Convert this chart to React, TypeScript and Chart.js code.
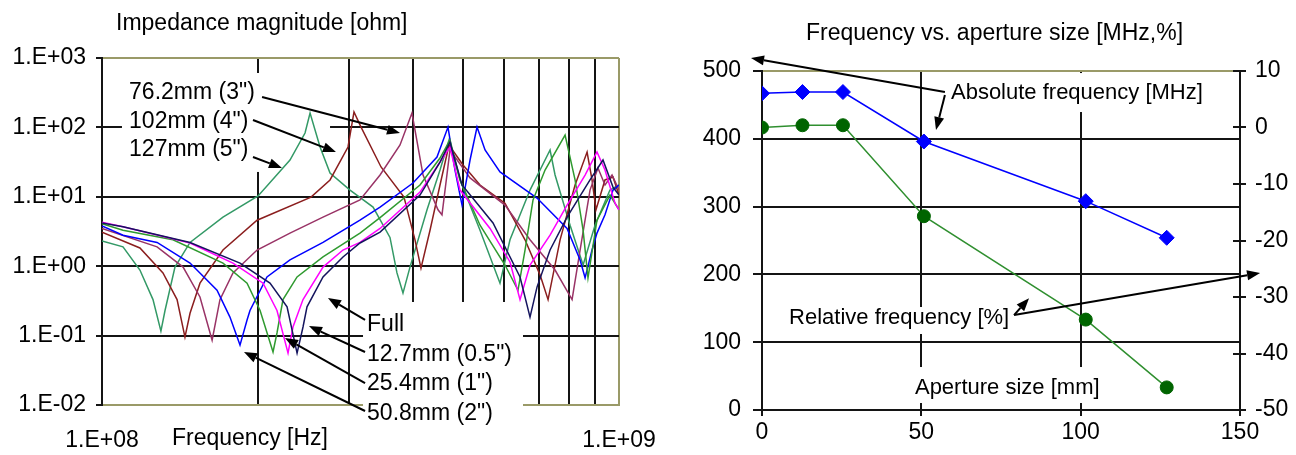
import React, { useEffect, useRef } from "react";
import { Chart, registerables } from "chart.js";

Chart.register(...registerables);

// ================= Left chart: impedance magnitude vs frequency =================
// frequency in MHz, impedance magnitude in ohm
const fullFreq = [100, 109.8, 148.0, 184.9, 211.3, 228.0, 238.4, 244.8, 249.2, 267.6, 292.5, 315.5, 345.0, 412.2, 450.6, 471.1, 497.0, 570.6, 643.5, 672.8, 694.1, 735.6, 793.5, 878.9, 931.2, 973.6, 1000];
const fullZ = [4.2, 3.7, 2.2, 1.11, 0.57, 0.26, 0.056, 0.133, 0.26, 0.7, 1.36, 2.16, 3.1, 10.6, 31.7, 61.6, 14.8, 4.2, 0.7, 0.185, 0.5, 1.71, 5.1, 17.5, 33.9, 13.8, 10.6];

const m12Freq = [100, 109.8, 148.0, 179.2, 204.9, 218.0, 229.0, 234.1, 244.8, 267.6, 292.5, 315.5, 345.0, 412.2, 450.6, 471.1, 492.6, 563.1, 615.4, 643.5, 672.8, 735.6, 793.5, 859.8, 906.6, 939.5, 982.4, 1000];
const m12Z = [4.3, 3.7, 2.16, 1.11, 0.57, 0.23, 0.056, 0.133, 0.33, 0.97, 1.71, 2.2, 3.5, 11.7, 31.7, 52.2, 12.5, 3.5, 1.15, 0.33, 1.04, 2.8, 7.6, 20.6, 44.2, 24.3, 8.1, 6.5];

const m25Freq = [100, 109.8, 137.2, 171.4, 190.8, 202.2, 214.2, 218.0, 223.9, 238.4, 267.6, 315.5, 345.0, 412.2, 450.6, 471.1, 492.6, 538.5, 601.8, 637.7, 658.0, 681.9, 719.4, 786.5, 822.3, 852.2, 871.0, 906.6, 960.5, 1000];
const m25Z = [4.1, 3.3, 2.4, 1.11, 0.57, 0.23, 0.058, 0.109, 0.33, 0.7, 1.36, 3.0, 5.0, 14.8, 36.2, 65.8, 17.5, 3.9, 1.04, 0.45, 1.71, 9.0, 24.3, 77.7, 17.5, 3.3, 0.68, 4.6, 10.6, 6.5];

const m50Freq = [100, 109.8, 127.8, 148.0, 166.9, 176.8, 184.9, 190.8, 193.3, 208.5, 231.0, 267.6, 315.5, 345.0, 399.5, 444.6, 466.9, 481.7, 497.0, 515.1, 531.4, 550.7, 588.6, 694.1, 793.5, 840.9, 859.8, 886.8, 906.6, 939.5, 973.6, 1000];
const m50Z = [3.8, 2.8, 2.2, 1.11, 0.45, 0.185, 0.073, 0.168, 0.23, 0.7, 1.23, 2.2, 4.6, 7.1, 15.8, 37.4, 101, 24.3, 7.6, 33.9, 101, 47.2, 22.8, 9.6, 3.5, 1.23, 0.68, 1.71, 3.0, 5.5, 12.5, 14.8];

const m76Freq = [100, 127.8, 143.5, 154.7, 163.3, 169.1, 179.2, 199.5, 231.0, 267.6, 315.5, 345.0, 377.1, 397.7, 417.8, 446.6, 454.6, 471.1, 515.1, 601.8, 672.8, 752.2, 811.4, 840.9, 878.9, 910.6, 939.5, 969.4, 1000];
const m76Z = [3.5, 1.9, 0.97, 0.36, 0.086, 0.33, 0.8, 1.71, 3.0, 5.1, 9.0, 20.6, 55.8, 161, 20.6, 6.5, 5.5, 47.2, 18.7, 7.6, 2.4, 0.88, 0.33, 1.71, 12.5, 26.0, 14.8, 20.6, 12.5];

const m102Freq = [100, 118.4, 131.2, 139.7, 144.7, 148.0, 154.7, 171.4, 199.5, 253.7, 276.1, 299.1, 307.2, 317.0, 346.5, 383.8, 403.1, 414.0, 431.0, 450.6, 469.0, 499.2, 538.5, 601.8, 658.0, 703.5, 729.1, 769.2, 822.3, 867.5, 886.8, 902.6, 939.5, 973.6, 1000];
const m102Z = [3.1, 1.83, 0.8, 0.33, 0.095, 0.21, 0.57, 1.71, 4.6, 9.9, 17.5, 52.2, 167, 101, 26.9, 9.9, 2.4, 0.94, 3.3, 14.8, 55.8, 28.7, 14.8, 8.1, 2.4, 0.75, 0.33, 2.4, 14.8, 44.2, 17.5, 6.5, 17.5, 19.3, 10.6];

const m127Freq = [100, 109.8, 118.4, 125.5, 130.0, 132.4, 138.4, 148.0, 171.4, 200.4, 231.0, 247.0, 252.6, 264.1, 276.1, 301.8, 334.4, 360.6, 372.0, 382.1, 394.2, 425.3, 450.6, 469.0, 492.6, 538.5, 588.6, 615.4, 672.8, 735.6, 752.2, 804.2, 852.2, 898.7, 960.5, 1000];
const m127Z = [2.3, 1.9, 0.88, 0.33, 0.116, 0.23, 0.97, 2.2, 5.1, 10.3, 33.9, 83, 161, 52.2, 22.0, 12.5, 7.1, 2.6, 0.8, 0.41, 0.97, 6.5, 24.3, 66, 17.5, 3.3, 0.57, 2.4, 12.5, 47.2, 20.6, 3.9, 1.04, 3.9, 12.5, 14.8];

const leftSeriesNames = ["Full", "12.7mm", "25.4mm", "50.8mm", "76.2mm", "102mm", "127mm"];
const leftSeriesFreq = [fullFreq, m12Freq, m25Freq, m50Freq, m76Freq, m102Freq, m127Freq];
const leftSeriesZ = [fullZ, m12Z, m25Z, m50Z, m76Z, m102Z, m127Z];

const leftXTicks = [1e8, 2e8, 3e8, 4e8, 5e8, 6e8, 7e8, 8e8, 9e8, 1e9];
const leftXTickLabels = ["1.E+08", "", "", "", "", "", "", "", "", "1.E+09"];
const leftYTicks = [0.01, 0.1, 1, 10, 100, 1000];
const leftYTickLabels = ["1.E-02", "1.E-01", "1.E+00", "1.E+01", "1.E+02", "1.E+03"];

// annotation texts (anchored in data units: MHz, ohm)
const leftLabelTexts = ['76.2mm (3")', '102mm (4")', '127mm (5")', "Full", '12.7mm (0.5")', '25.4mm (1")', '50.8mm (2")'];
const leftLabelFreq = [112.8, 112.8, 112.8, 325.6, 325.6, 325.6, 325.6];
const leftLabelZ = [313, 120, 47.2, 0.142, 0.0525, 0.0201, 0.0074];

// ================= Right chart: frequency vs aperture size =================
const apertureMm = [0, 12.7, 25.4, 50.8, 101.6, 127];
const absFreqMHz = [467, 469, 469, 396, 308, 254];
const relFreqPct = [0, 0.4, 0.4, -15.7, -34.0, -46.0];

const rightXTicks = [0, 50, 100, 150];
const rightYTicks = [0, 100, 200, 300, 400, 500];
const rightY2Ticks = [-50, -40, -30, -20, -10, 0, 10];

const rightLabelTexts = ["Absolute frequency [MHz]", "Relative frequency [%]", "Aperture size [mm]"];
const rightLabelX = [59.3, 8.5, 48];
const rightLabelY = [467.6, 135.7, 32.4];

// ================= Annotation geometry (not data) =================
const leftArrows = [
  { f1: 204.0, z1: 274, f2: 377.1, z2: 83 },
  { f1: 195.9, z1: 128, f2: 283.5, z2: 44.2 },
  { f1: 195.9, z1: 37.4, f2: 222.9, z2: 26.0 },
  { f1: 322.7, z1: 0.168, f2: 273.6, z2: 0.348 },
  { f1: 322.7, z1: 0.058, f2: 251.4, z2: 0.137 },
  { f1: 322.7, z1: 0.0207, f2: 225.9, z2: 0.092 },
  { f1: 322.7, z1: 0.0082, f2: 188.2, z2: 0.058 },
];
const leftMasks = [
  { f1: 109.3, f2: 276.1, z1: 608, z2: 22.8 },
  { f1: 319.8, f2: 652.1, z1: 0.305, z2: 0.00515 },
];
const rightArrows = [
  { x1: 57.4, y1: 469, x2: -3.45, y2: 519 },
  { x1: 57.4, y1: 464.6, x2: 54.6, y2: 413 },
  { x1: 79.1, y1: 140, x2: 156.3, y2: 202 },
  { x1: 79.1, y1: 140, x2: 83.8, y2: 165 },
];
const rightMasks = [
  { x1: 55.9, x2: 139, y1: 497, y2: 439.5 },
  { x1: 7.2, x2: 77.3, y1: 151.9, y2: 112.1 },
  { x1: 44.9, x2: 106.1, y1: 63.4, y2: 4.4 },
];

// ================= Styles =================
const FONT = '"Liberation Sans", Arial, Helvetica, sans-serif';
const GRID = "#141414";
const OLIVE = "#9a9a68";
const leftColors = ["#14145e", "#ff00ff", "#2f9a2f", "#0000ff", "#993366", "#8b1e1e", "#339966"];

function drawArrow(ctx: CanvasRenderingContext2D, x1: number, y1: number, x2: number, y2: number) {
  const ang = Math.atan2(y2 - y1, x2 - x1);
  const len = 13;
  const half = 5;
  const bx = x2 - len * Math.cos(ang);
  const by = y2 - len * Math.sin(ang);
  ctx.beginPath();
  ctx.moveTo(x1, y1);
  ctx.lineTo(bx, by);
  ctx.stroke();
  ctx.beginPath();
  ctx.moveTo(x2, y2);
  ctx.lineTo(bx + half * Math.sin(ang), by - half * Math.cos(ang));
  ctx.lineTo(bx - half * Math.sin(ang), by + half * Math.cos(ang));
  ctx.closePath();
  ctx.fill();
}

function fillMask(ctx: CanvasRenderingContext2D, a: number, b: number, c: number, d: number) {
  ctx.fillRect(Math.min(a, b), Math.min(c, d), Math.abs(b - a), Math.abs(d - c));
}

const leftOverlay = {
  id: "leftOverlay",
  beforeDatasetsDraw(chart: any) {
    const { ctx } = chart;
    const sx = chart.scales.x;
    const sy = chart.scales.y;
    ctx.save();
    ctx.fillStyle = "#ffffff";
    leftMasks.forEach((m) => {
      fillMask(ctx, sx.getPixelForValue(m.f1 * 1e6), sx.getPixelForValue(m.f2 * 1e6), sy.getPixelForValue(m.z1), sy.getPixelForValue(m.z2));
    });
    ctx.restore();
  },
  afterDatasetsDraw(chart: any) {
    const { ctx, chartArea } = chart;
    const sx = chart.scales.x;
    const sy = chart.scales.y;
    ctx.save();
    ctx.strokeStyle = "#000";
    ctx.fillStyle = "#000";
    ctx.lineWidth = 2;
    leftArrows.forEach((a) => {
      drawArrow(ctx, sx.getPixelForValue(a.f1 * 1e6), sy.getPixelForValue(a.z1), sx.getPixelForValue(a.f2 * 1e6), sy.getPixelForValue(a.z2));
    });
    ctx.font = `23px ${FONT}`;
    ctx.textAlign = "left";
    ctx.textBaseline = "middle";
    leftLabelTexts.forEach((t, i) => {
      ctx.fillText(t, sx.getPixelForValue(leftLabelFreq[i] * 1e6), sy.getPixelForValue(leftLabelZ[i]));
    });
    ctx.textBaseline = "alphabetic";
    ctx.fillText("Impedance magnitude [ohm]", chartArea.left + 14, 30);
    ctx.fillText("Frequency [Hz]", chartArea.left + 70, chartArea.bottom + 40);
    ctx.restore();
  },
};

const rightOverlay = {
  id: "rightOverlay",
  beforeDatasetsDraw(chart: any) {
    const { ctx, chartArea } = chart;
    const sx = chart.scales.x;
    const sy = chart.scales.y;
    const sy2 = chart.scales.y2;
    ctx.save();
    ctx.fillStyle = "#ffffff";
    rightMasks.forEach((m) => {
      fillMask(ctx, sx.getPixelForValue(m.x1), sx.getPixelForValue(m.x2), sy.getPixelForValue(m.y1), sy.getPixelForValue(m.y2));
    });
    // inner halves of the crossing tick marks
    ctx.strokeStyle = GRID;
    ctx.lineWidth = 2;
    rightY2Ticks.forEach((v) => {
      const p = Math.round(sy2.getPixelForValue(v));
      ctx.beginPath();
      ctx.moveTo(chartArea.right - 7, p);
      ctx.lineTo(chartArea.right, p);
      ctx.stroke();
    });
    rightXTicks.forEach((v) => {
      const p = Math.round(sx.getPixelForValue(v));
      ctx.beginPath();
      ctx.moveTo(p, chartArea.bottom - 7);
      ctx.lineTo(p, chartArea.bottom);
      ctx.stroke();
    });
    ctx.restore();
  },
  afterDatasetsDraw(chart: any) {
    const { ctx, chartArea } = chart;
    const sx = chart.scales.x;
    const sy = chart.scales.y;
    ctx.save();
    ctx.strokeStyle = "#000";
    ctx.fillStyle = "#000";
    ctx.lineWidth = 2;
    rightArrows.forEach((a) => {
      drawArrow(ctx, sx.getPixelForValue(a.x1), sy.getPixelForValue(a.y1), sx.getPixelForValue(a.x2), sy.getPixelForValue(a.y2));
    });
    ctx.font = `22px ${FONT}`;
    ctx.textAlign = "left";
    ctx.textBaseline = "middle";
    rightLabelTexts.forEach((t, i) => {
      ctx.fillText(t, sx.getPixelForValue(rightLabelX[i]), sy.getPixelForValue(rightLabelY[i]));
    });
    ctx.font = `23px ${FONT}`;
    ctx.textBaseline = "alphabetic";
    ctx.fillText("Frequency vs. aperture size [MHz,%]", chartArea.left + 44, 40);
    ctx.restore();
  },
};

const tickFont = { family: FONT, size: 23 };

export default function App() {
  const leftRef = useRef<HTMLCanvasElement | null>(null);
  const rightRef = useRef<HTMLCanvasElement | null>(null);

  useEffect(() => {
    Chart.defaults.font.family = FONT;

    const leftChart = new Chart(leftRef.current as HTMLCanvasElement, {
      type: "scatter",
      data: {
        datasets: leftSeriesNames.map((name, i) => ({
          label: name,
          data: leftSeriesFreq[i].map((f, j) => ({ x: f * 1e6, y: leftSeriesZ[i][j] })),
          showLine: true,
          borderColor: leftColors[i],
          backgroundColor: leftColors[i],
          borderWidth: 1.5,
          pointRadius: 0,
          tension: 0,
        })),
      },
      options: {
        animation: false,
        responsive: false,
        maintainAspectRatio: false,
        layout: { padding: { left: 0, right: 81, top: 58, bottom: 0 } },
        plugins: { legend: { display: false }, tooltip: { enabled: false }, title: { display: false } },
        scales: {
          x: {
            type: "logarithmic",
            min: 1e8,
            max: 1e9,
            afterBuildTicks: (s: any) => {
              s.ticks = leftXTicks.map((v) => ({ value: v }));
            },
            afterFit: (s: any) => {
              s.height = 50;
            },
            ticks: {
              autoSkip: false,
              maxRotation: 0,
              padding: 22,
              color: "#000",
              font: tickFont,
              callback: (v: any) => {
                const k = leftXTicks.indexOf(Number(v));
                return k >= 0 ? leftXTickLabels[k] : "";
              },
            },
            grid: {
              color: (c: any) => (c.tick && c.tick.value === 1e9 ? OLIVE : GRID),
              lineWidth: 2,
              drawTicks: false,
            },
            border: { color: OLIVE, width: 2 },
          },
          y: {
            type: "logarithmic",
            min: 0.01,
            max: 1000,
            afterBuildTicks: (s: any) => {
              s.ticks = leftYTicks.map((v) => ({ value: v }));
            },
            afterFit: (s: any) => {
              s.width = 102;
            },
            ticks: {
              autoSkip: false,
              padding: 10,
              color: "#000",
              font: tickFont,
              callback: (v: any) => {
                const k = leftYTicks.indexOf(Number(v));
                return k >= 0 ? leftYTickLabels[k] : "";
              },
            },
            grid: {
              color: (c: any) => (c.tick && (c.tick.value === 1000 || c.tick.value === 0.01) ? OLIVE : GRID),
              lineWidth: 2,
              drawTicks: true,
              tickLength: 6,
              tickColor: GRID,
              tickWidth: 2,
            },
            border: { color: GRID, width: 2 },
          },
        },
      } as any,
      plugins: [leftOverlay],
    });

    const rightChart = new Chart(rightRef.current as HTMLCanvasElement, {
      type: "scatter",
      data: {
        datasets: [
          {
            label: "Absolute frequency [MHz]",
            data: apertureMm.map((x, i) => ({ x, y: absFreqMHz[i] })),
            yAxisID: "y",
            showLine: true,
            borderColor: "#0000ff",
            backgroundColor: "#0000ff",
            borderWidth: 1.5,
            pointStyle: "rectRot",
            pointRadius: 7.5,
            pointBorderWidth: 1,
            pointBorderColor: "#0000ff",
            pointBackgroundColor: "#0000ff",
          },
          {
            label: "Relative frequency [%]",
            data: apertureMm.map((x, i) => ({ x, y: relFreqPct[i] })),
            yAxisID: "y2",
            showLine: true,
            borderColor: "#2f8f2f",
            backgroundColor: "#006400",
            borderWidth: 1.5,
            pointStyle: "circle",
            pointRadius: 6.5,
            pointBorderWidth: 1,
            pointBorderColor: "#006400",
            pointBackgroundColor: "#006400",
          },
        ],
      },
      options: {
        animation: false,
        responsive: false,
        maintainAspectRatio: false,
        layout: { padding: { left: 0, right: 0, top: 71, bottom: 0 } },
        plugins: { legend: { display: false }, tooltip: { enabled: false }, title: { display: false } },
        scales: {
          x: {
            type: "linear",
            min: 0,
            max: 150,
            afterBuildTicks: (s: any) => {
              s.ticks = rightXTicks.map((v) => ({ value: v }));
            },
            afterFit: (s: any) => {
              s.height = 45;
            },
            ticks: { autoSkip: false, maxRotation: 0, padding: 3, color: "#000", font: tickFont },
            grid: { color: GRID, lineWidth: 2, tickLength: 6, tickColor: GRID, tickWidth: 2 },
            border: { color: GRID, width: 2 },
          },
          y: {
            type: "linear",
            position: "left",
            min: 0,
            max: 500,
            afterBuildTicks: (s: any) => {
              s.ticks = rightYTicks.map((v) => ({ value: v }));
            },
            afterFit: (s: any) => {
              s.width = 122;
            },
            ticks: { autoSkip: false, padding: 12, color: "#000", font: tickFont },
            grid: {
              color: (c: any) => (c.tick && c.tick.value === 500 ? OLIVE : GRID),
              lineWidth: 2,
              tickLength: 9,
              tickColor: GRID,
              tickWidth: 2,
            },
            border: { color: GRID, width: 2 },
          },
          y2: {
            type: "linear",
            position: "right",
            min: -50,
            max: 10,
            afterBuildTicks: (s: any) => {
              s.ticks = rightY2Ticks.map((v) => ({ value: v }));
            },
            afterFit: (s: any) => {
              s.width = 56;
            },
            ticks: { autoSkip: false, padding: 9, color: "#000", font: tickFont },
            grid: { drawOnChartArea: false, color: GRID, lineWidth: 2, tickLength: 6, tickColor: GRID, tickWidth: 2 },
            border: { color: GRID, width: 2 },
          },
        },
      } as any,
      plugins: [rightOverlay],
    });

    return () => {
      leftChart.destroy();
      rightChart.destroy();
    };
  }, []);

  return (
    <div style={{ position: "fixed", left: 0, top: 0, width: 1296, height: 455, background: "#fff", overflow: "hidden" }}>
      <canvas ref={leftRef} width={700} height={455} style={{ position: "absolute", left: 0, top: 0, width: 700, height: 455 }} />
      <canvas ref={rightRef} width={656} height={455} style={{ position: "absolute", left: 640, top: 0, width: 656, height: 455 }} />
    </div>
  );
}
